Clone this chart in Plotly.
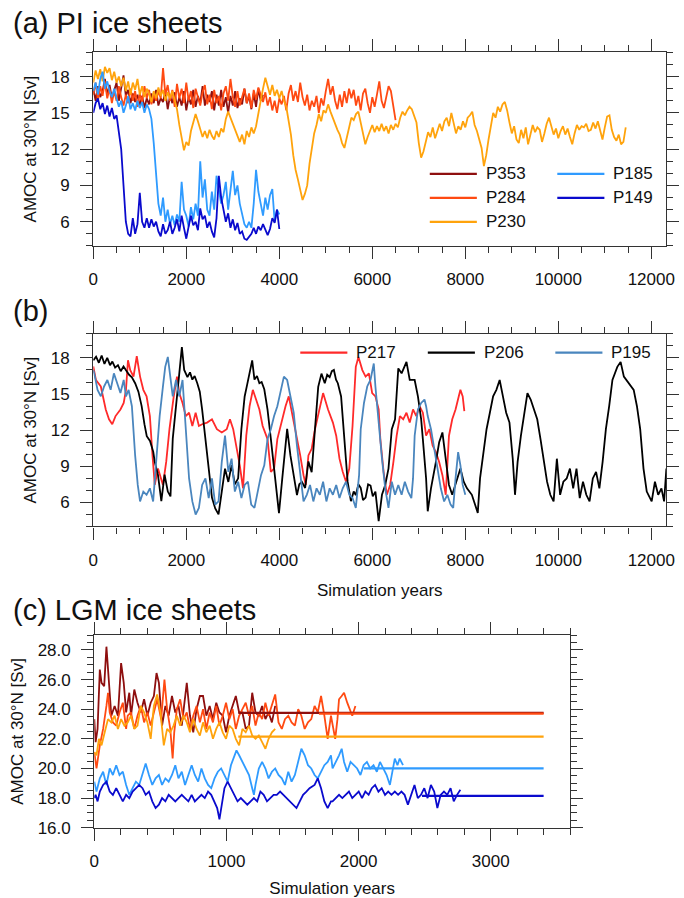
import plotly.graph_objects as go

# ---------------- Panel (a): PI ice sheets (values every 50 model years) ----------------
a_step = 50
a_P353 = [17.0,16.0,17.2,16.3,16.8,17.8,16.5,17.3,16.2,16.9,17.5,16.0,17.0,18.1,16.4,16.9,15.8,16.6,15.9,16.5,
          15.6,16.4,15.4,16.2,15.7,16.6,15.8,16.9,15.6,16.2,15.9,16.8,15.3,16.4,15.8,16.7,15.5,16.3,15.6,16.8,
          15.2,16.3,15.7,16.9,15.5,16.4,15.8,17.2,15.6,16.5,15.9,16.8,15.2,16.5,15.6,16.9,15.5,16.3,15.0,16.4,
          15.6,16.8,15.4,16.2,15.7,17.0,15.8,16.4,15.3,16.6,15.5,17.0,16.0,16.5]
a_P284 = [16.5,17.5,16.0,17.2,16.4,17.6,16.2,17.0,15.8,16.8,16.0,17.2,16.3,15.6,16.5,15.8,17.0,16.0,16.8,15.5,
          16.6,15.9,17.2,16.2,16.9,15.7,16.5,16.0,16.8,16.2,18.7,16.5,17.3,16.0,16.9,15.5,17.4,16.2,17.0,15.8,
          17.5,16.0,16.8,15.4,17.0,16.2,15.6,16.7,17.3,15.7,16.5,15.3,16.9,15.8,16.4,15.2,16.6,17.2,16.0,17.8,
          16.3,15.5,16.8,15.6,16.4,17.0,15.8,16.6,15.4,16.9,16.1,17.1,16.5,15.9,16.7,15.6,16.3,15.2,16.0,15.0,
          16.2,15.7,16.4,15.2,16.6,17.3,16.0,16.8,15.9,17.5,16.3,15.6,16.5,15.2,16.0,15.5,16.4,15.0,16.2,15.6,
          16.8,17.8,16.5,17.2,16.0,15.3,16.5,15.5,16.8,15.8,17.0,16.2,16.9,15.6,16.4,15.2,16.6,17.0,15.8,15.0,
          16.3,15.5,16.5,17.6,16.0,15.4,16.3,17.2,16.8,15.5,14.4]
a_P230 = [17.5,18.5,17.8,18.6,17.6,18.8,18.3,18.7,17.7,18.4,17.5,18.0,17.2,17.9,16.8,17.6,16.5,17.5,16.9,17.8,
          16.5,17.2,16.3,17.0,16.6,15.9,16.8,16.2,17.1,16.4,16.9,16.0,16.7,16.2,16.8,16.0,15.3,14.0,12.8,11.9,
          12.6,12.3,13.5,14.2,14.9,14.3,13.6,13.0,13.5,12.9,13.6,13.1,12.8,13.5,13.0,13.7,13.4,14.5,15.1,14.6,
          14.0,13.5,13.0,12.6,13.2,12.4,13.5,13.0,13.8,13.3,13.9,14.8,16.0,17.0,17.9,17.2,16.5,17.3,16.4,16.9,
          16.2,16.8,16.0,15.5,14.5,13.2,11.5,10.3,9.5,8.6,7.8,8.3,9.0,10.8,12.2,13.3,14.0,14.9,14.3,15.2,
          15.0,15.7,15.1,14.6,14.0,13.6,13.2,12.5,12.1,13.0,13.8,14.6,14.4,14.9,15.1,14.2,13.2,12.4,13.0,13.6,
          14.0,13.4,13.9,13.5,14.1,13.5,13.9,13.3,14.0,13.6,14.1,13.8,14.6,15.1,14.8,15.2,15.5,15.3,14.8,14.2,
          12.5,11.3,11.8,12.6,13.4,13.0,13.8,12.9,13.6,14.1,13.5,14.3,14.6,13.9,15.0,14.2,13.3,13.9,13.6,14.3,
          13.8,14.6,14.8,15.1,14.0,13.5,12.8,12.1,10.6,11.5,12.8,14.0,15.0,14.6,15.5,15.1,15.7,15.9,15.2,14.2,
          13.3,13.9,12.8,12.5,13.6,12.9,13.8,12.4,13.2,14.0,13.4,13.8,13.6,12.6,13.3,14.1,14.6,13.8,13.2,13.7,
          12.9,13.5,13.9,13.2,13.7,13.0,12.4,13.3,14.0,13.6,13.9,13.8,14.1,13.5,13.6,14.2,13.7,14.3,13.5,12.8,
          13.8,14.7,14.8,13.6,13.0,12.7,13.2,12.4,12.6,13.8]
a_P185 = [16.8,17.5,16.5,17.8,18.4,17.0,17.6,16.8,16.3,17.0,16.2,15.5,16.0,15.0,15.6,16.4,15.3,15.8,15.2,16.0,
          15.4,15.9,15.0,15.7,15.3,14.5,12.5,10.0,7.5,6.5,8.0,6.0,7.0,5.8,6.5,5.7,6.6,6.0,9.3,7.0,
          6.5,5.6,7.2,6.2,7.5,6.5,11.0,8.0,9.5,7.0,6.5,8.5,7.0,9.8,8.5,7.5,8.2,9.3,7.0,8.5,
          10.2,8.2,9.0,7.5,6.5,5.8,5.5,6.0,5.5,7.5,10.3,8.5,7.5,6.5,8.0,7.0,8.2,8.7,6.0,7.0,6.6]
a_P149 = [15.0,15.8,16.2,15.3,15.8,14.9,15.6,14.7,15.4,14.5,14.8,13.5,12.0,9.0,6.0,5.0,4.8,6.3,5.0,5.8,
          8.4,6.0,5.5,6.3,5.5,6.2,5.6,6.0,5.2,4.8,5.8,5.0,5.3,6.0,5.0,5.5,6.2,5.2,6.5,5.5,
          4.6,5.6,6.5,5.7,6.0,5.3,7.1,6.2,6.5,5.5,6.0,5.2,4.7,6.3,9.8,8.0,7.0,6.0,6.7,5.5,
          6.2,5.3,5.9,5.0,5.2,4.6,4.5,4.8,5.0,5.5,5.0,5.6,5.3,5.8,5.3,4.9,5.4,6.3,5.9,7.0,5.4]

# ---------------- Panel (b) ----------------
b_P217_x = [0,57,162,268,338,408,478,584,654,703,746,795,865,935,1006,1076,1146,1217,1273,1322,1392,1449,1498,
            1568,1638,1730,1800,1849,1919,1990,2060,2130,2201,2271,2341,2447,2552,2658,2763,2869,2939,3009,3080,
            3150,3220,3290,3361,3431,3501,3572,3642,3747,3818,3888,3958,4064,4134,4204,4275,4345,4450,4521,4570,
            4626,4696,4767,4872,4942,5048,5153,5224,5294,5364,5435,5505,5575,5645,5702,5786,5856,5927,5997,6067,
            6137,6173,6243,6313,6384,6454,6524,6594,6665,6735,6805,6876,6946,7016,7087,7157,7227,7297,7368,7438,
            7508,7579,7614,7649,7719,7790,7860,7895,7944,7979]
b_P217_y = [17.3,16.17,15.63,13.72,12.9,12.49,13.17,13.72,14.26,15.35,17.81,16.99,16.45,18.14,16.45,15.35,14.81,
            13.17,9.9,7.45,8.81,7.99,7.45,9.36,12.08,14.81,16.45,15.08,14.26,13.17,13.45,12.35,13.45,12.35,12.49,
            12.63,12.9,12.08,11.81,12.08,12.9,12.08,10.72,9.08,7.17,11.54,13.99,15.35,14.54,13.72,12.35,11.26,8.54,
            8.81,11.26,12.9,13.99,14.81,13.45,11.81,9.9,8.26,7.45,9.9,10.45,12.08,13.99,15.08,13.72,12.63,11.54,
            9.63,8.54,7.72,8.81,12.35,17.26,18.08,16.99,16.45,16.72,15.08,14.81,13.72,11.26,8.54,6.63,7.45,9.36,
            11.54,13.17,12.9,13.45,12.63,13.72,13.17,13.99,13.45,11.54,12.08,10.72,10.17,9.36,8.26,6.63,8.81,11.54,
            12.9,13.72,14.81,15.35,14.81,13.58]
b_P206_x = [0,60,120,180,240,300,360,410,470,530,590,650,700,770,830,900,970,1040,1100,1150,1220,1290,1320,1390,
            1463,1500,1533,1603,1660,1709,1779,1849,1905,1955,2025,2080,2130,2180,2236,2290,2341,2412,2482,2552,
            2622,2693,2763,2833,2904,2974,3044,3115,3185,3255,3310,3361,3417,3466,3520,3572,3620,3677,3747,3818,
            3888,3958,3993,4064,4169,4239,4310,4380,4430,4486,4556,4626,4696,4767,4837,4907,4978,5030,5083,5130,
            5174,5220,5259,5329,5399,5470,5540,5600,5645,5700,5751,5800,5856,5910,5962,6010,6067,6137,6208,6278,
            6348,6419,6489,6559,6630,6735,6805,6911,6981,7051,7087,7157,7192,7262,7368,7438,7508,7579,7649,7719,
            7790,7895,7965,8036,8141,8268,8317,8387,8457,8528,8598,8668,8739,8809,8879,8950,9020,9069,9125,9196,
            9266,9336,9406,9477,9547,9617,9688,9758,9828,9899,9969,10039,10109,10180,10250,10320,10391,10461,
            10531,10602,10672,10742,10812,10883,10953,11023,11094,11164,11269,11340,11410,11515,11621,11691,
            11761,11832,11902,12008,12078,12148,12218,12275,12324]
b_P206_y = [17.8,18.1,17.6,18.2,17.5,18.0,17.4,17.7,17.2,17.4,16.9,17.3,17.0,16.6,16.4,15.9,15.2,14.0,12.5,11.5,
            11.1,10.2,9.4,8.3,6.1,7.5,8.3,6.9,6.5,11.3,14.3,16.7,18.9,17.0,16.4,16.8,16.2,16.5,15.9,15.2,13.7,
            11.3,8.5,6.4,5.5,5.0,6.9,8.8,7.7,9.1,7.5,8.0,12.1,14.8,15.8,16.7,17.8,16.2,16.5,15.9,16.0,15.4,13.7,
            11.3,8.8,5.8,5.1,7.99,12.1,9.9,8.3,6.6,7.5,7.7,7.2,9.4,8.5,12.1,15.6,16.7,15.9,16.6,16.4,16.9,17.0,
            16.2,15.9,14.8,11.3,7.7,6.1,6.9,6.6,7.5,7.2,6.2,6.4,7.5,7.4,6.5,6.9,4.45,6.63,7.45,8.81,12.08,12.9,
            17.13,16.72,17.67,16.17,16.17,14.81,12.9,11.26,7.99,5.26,7.17,9.36,10.99,11.81,9.36,7.45,6.63,7.45,
            8.81,7.72,7.17,6.63,5.13,7.99,9.9,12.08,13.45,14.81,15.35,16.17,14.81,13.45,12.63,9.63,6.63,9.36,
            11.54,13.45,15.08,14.54,13.72,12.9,11.26,9.36,7.72,6.63,6.08,9.63,6.63,7.72,7.99,8.81,7.17,8.81,6.36,
            7.72,6.63,6.08,7.99,8.54,7.17,9.36,12.08,13.99,16.17,17.26,17.67,16.45,15.9,15.35,13.99,12.08,8.81,
            6.9,6.08,7.72,6.63,7.17,6.08,8.81]
b_P195_x = [0,21,92,162,232,303,373,443,514,584,654,703,760,830,900,956,1006,1076,1146,1217,1287,1357,1427,1498,
            1547,1603,1659,1709,1779,1849,1919,1969,2025,2060,2130,2201,2271,2341,2412,2482,2552,2622,2693,2763,
            2833,2904,2974,3044,3115,3185,3255,3325,3396,3466,3536,3607,3677,3747,3818,3888,3958,4029,4099,4169,
            4239,4310,4380,4450,4521,4591,4661,4732,4802,4872,4942,5013,5083,5153,5224,5294,5364,5435,5505,5575,
            5645,5716,5751,5821,5891,5962,6032,6067,6137,6208,6278,6348,6419,6489,6559,6630,6700,6770,6840,6876,
            6911,6981,7051,7122,7157,7192,7262,7333,7403,7473,7544,7614,7684,7740,7790,7846,7895,7944,8000]
b_P195_y = [16.99,16.72,15.35,14.81,15.63,16.17,15.35,16.72,15.9,15.08,16.17,14.81,15.35,13.99,9.9,7.45,6.08,6.9,
            6.63,7.17,6.08,9.9,13.17,15.63,17.26,18.08,16.45,14.81,16.17,14.81,16.17,13.45,10.72,7.99,6.08,4.99,
            5.54,7.45,7.99,6.36,7.99,5.81,6.08,9.36,11.54,8.54,9.63,6.9,7.72,6.36,7.45,7.72,5.81,5.54,6.9,8.26,
            9.08,11.26,12.08,13.17,13.99,15.35,16.45,16.17,14.81,13.45,10.72,8.26,6.08,6.63,7.45,6.08,7.17,6.63,
            7.72,6.08,7.17,6.63,7.45,6.36,7.17,7.72,6.63,6.36,5.54,8.26,12.08,14.26,15.63,16.2,17.54,15.63,12.35,
            9.63,7.17,5.54,7.72,6.63,7.45,6.63,7.72,6.9,6.36,7.99,11.54,13.72,14.26,14.54,13.99,13.17,12.08,10.45,
            8.81,7.17,6.08,6.63,5.81,5.54,7.99,10.17,9.08,7.45,6.63]

# ---------------- Panel (c): LGM ice sheets ----------------
c_P353_x = [0,10,25,42,55,75,92,109,129,154,179,203,223,241,265,278,303,327,352,377,402,427,451,471,489,513,538,
            563,588,613,637,662,687,700,724,749,774,799,823,848,873,898,923,947,972,997,1022,1047,1071,1096,1121,
            1146,1171,1195,1220,1245,1270,1295,1319,1344,1369]
c_P353_y = [23.33,21.78,22.67,26.67,25.78,25.56,28.22,26.0,23.56,24.22,23.56,27.11,25.78,23.78,25.11,23.56,25.33,
            24.44,23.78,24.67,23.56,24.44,24.89,26.44,25.78,22.89,24.22,23.56,24.89,23.78,24.22,22.89,24.89,25.78,
            23.56,22.44,24.0,24.89,24.89,23.56,24.22,23.33,24.44,23.78,23.56,22.44,23.56,24.22,24.89,23.78,23.78,
            22.67,22.89,25.11,23.78,23.56,24.22,23.33,23.78,23.11,24.22]
c_P284_x = [0,17,42,67,92,104,117,141,166,191,216,241,253,278,303,327,352,377,402,427,451,476,506,531,551,575,
            593,605,625,650,675,700,724,749,774,799,823,848,873,898,923,947,972,997,1022,1047,1071,1096,1121,
            1146,1171,1195,1220,1245,1270,1295,1319,1344,1369,1394,1419,1443,1468,1493,1518,1543,1567,1592,1617,
            1642,1667,1691,1716,1741,1766,1791,1803,1823,1840,1852,1872,1890,1914,1932,1952,1976]
c_P284_y = [21.11,20.0,21.56,22.67,24.22,25.11,23.78,23.11,22.89,23.78,24.44,22.67,23.56,23.78,22.67,23.56,24.22,
            23.11,23.78,22.89,23.78,24.67,23.33,26.0,24.0,22.67,20.67,22.44,24.0,24.67,23.33,23.78,22.67,23.56,
            24.22,23.11,24.0,22.67,23.78,23.11,24.22,22.89,23.56,24.44,23.33,24.0,22.67,23.56,24.0,24.44,23.56,
            24.22,22.89,23.78,23.33,24.44,23.56,24.22,25.0,23.11,22.67,23.33,23.56,23.11,22.89,24.0,23.56,22.67,
            23.11,23.33,24.22,23.78,24.89,23.56,22.0,23.56,22.89,22.0,23.33,24.67,24.89,25.11,24.44,24.0,23.56,
            24.22]
c_P230_x = [0,17,35,55,79,104,129,154,179,203,228,253,278,303,327,352,377,402,427,451,476,501,526,551,575,600,
            625,650,675,700,724,749,774,799,823,848,873,898,923,947,972,997,1022,1047,1071,1096,1121,1146,1171,
            1195,1220,1245,1270,1295,1319,1344,1369]
c_P230_y = [21.11,20.89,22.0,21.56,22.44,23.33,23.11,23.56,22.67,23.33,22.89,23.11,23.56,22.67,22.89,24.22,23.78,
            23.11,22.0,24.22,25.0,23.78,21.56,22.67,22.44,22.89,23.56,22.89,23.56,23.11,22.44,23.33,22.67,22.22,
            23.11,22.44,22.89,22.0,22.67,23.11,22.44,22.0,22.89,22.67,22.0,21.56,22.67,22.44,22.89,22.22,22.0,
            22.22,21.78,21.33,22.0,22.44,22.67]
c_P185_x = [0,17,42,67,92,117,141,166,191,216,241,265,290,315,340,365,389,414,439,464,489,513,538,563,588,613,
            637,662,687,712,737,761,786,811,836,861,885,910,935,960,985,1009,1034,1059,1076,1096,1121,1146,1171,
            1195,1208,1220,1245,1270,1295,1319,1344,1369,1394,1419,1443,1468,1493,1518,1543,1567,1592,1617,1642,
            1667,1691,1716,1741,1766,1791,1803,1828,1852,1872,1890,1914,1939,1964,1989,2014,2038,2063,2088,2113,
            2138,2162,2187,2212,2237,2254,2274,2294,2311,2336]
c_P185_y = [19.11,18.44,19.33,19.78,18.89,20.0,19.56,20.22,19.56,19.78,18.89,18.22,18.67,19.11,18.89,19.56,20.33,
            19.56,18.89,19.33,19.56,18.89,19.33,19.11,19.56,20.22,19.33,19.78,18.89,19.56,20.22,19.56,19.11,20.0,
            19.33,18.89,18.67,19.33,19.78,20.0,19.56,19.11,20.22,20.89,21.22,20.89,20.44,20.0,19.56,18.67,18.22,
            18.89,20.0,20.44,20.0,19.33,19.78,20.0,19.56,19.33,18.89,19.78,19.11,19.56,20.44,21.33,20.89,20.22,
            20.0,19.56,19.33,19.78,20.22,20.44,20.89,20.0,20.44,20.89,21.33,20.44,19.78,20.44,20.22,20.0,19.56,
            20.22,20.44,20.0,20.22,19.78,20.44,20.0,19.56,18.89,19.78,20.67,20.22,20.67,20.22]
c_P149_x = [0,10,25,42,67,92,117,141,166,191,216,241,265,290,315,340,365,389,414,439,464,489,513,538,563,588,
            613,637,662,687,712,737,761,786,811,836,861,885,910,930,947,967,985,1009,1034,1059,1084,1109,1133,
            1158,1183,1208,1233,1257,1282,1307,1332,1357,1381,1406,1431,1456,1481,1505,1530,1555,1580,1605,1629,
            1667,1691,1716,1741,1766,1791,1803,1828,1852,1877,1902,1927,1952,1976,2001,2026,2051,2076,2100,2125,
            2150,2175,2200,2224,2249,2274,2299,2324,2348,2373,2398,2423,2448,2472,2497,2522,2547,2572,2596,2621,
            2646,2671,2696,2720,2745,2770]
c_P149_y = [18.0,18.22,17.78,18.44,18.89,19.11,18.44,18.22,18.67,18.22,17.78,18.22,18.0,18.44,18.67,18.89,18.67,
            18.22,18.44,17.78,17.33,17.56,18.0,17.78,18.22,18.0,17.78,18.0,18.22,18.0,17.78,18.22,17.78,18.0,18.22,
            18.0,18.44,18.22,17.78,17.33,16.56,17.56,18.67,19.11,18.67,18.22,17.78,18.0,17.78,17.56,17.78,18.0,
            17.78,18.44,18.22,17.78,18.0,18.22,18.22,18.44,18.22,18.0,17.78,17.56,17.33,17.78,18.22,18.44,18.67,
            18.89,19.33,18.67,17.78,17.33,17.78,17.78,18.0,18.22,18.0,18.22,18.44,18.0,18.22,18.44,18.0,18.44,
            18.22,18.67,18.89,18.44,18.67,18.22,18.44,18.22,18.44,18.22,18.44,18.22,17.56,18.22,18.89,18.0,18.22,
            18.67,18.0,18.89,18.44,17.33,18.22,18.44,18.22,18.67,17.78,18.22,18.56]
# equilibrium (mean) levels drawn to the end of the panel
c_names = ["P353", "P284", "P230", "P185", "P149"]
c_mean_start = [1090, 1700, 1090, 2040, 2480]
c_mean_level = [23.75, 23.70, 22.15, 20.00, 18.15]
c_mean_end = 3400

# legend contents
leg_a_cols = [["P353", "P284", "P230"], ["P185", "P149"]]
leg_b = ["P217", "P206", "P195"]

# ---------------- styling ----------------
col_a = {"P353": "#8E0F0F", "P284": "#FF4A12", "P230": "#FFA30C", "P185": "#2F9BFF", "P149": "#0A0ACD"}
col_b = {"P217": "#FF2A2A", "P206": "#000000", "P195": "#4A86BE"}
FONT = "Liberation Sans, Arial, Helvetica, sans-serif"
AX = "#333333"
TXT = "#111111"
W, H = 684, 898


def px_x(p):
    return p / W


def px_y(p):
    return 1 - p / H


fig = go.Figure()
LW = 1.8

for name, vals in [("P353", a_P353), ("P284", a_P284), ("P230", a_P230), ("P185", a_P185), ("P149", a_P149)]:
    xs = [a_step * i for i in range(len(vals))]
    fig.add_trace(go.Scatter(x=xs, y=vals, mode="lines", name=name, showlegend=False,
                             line=dict(color=col_a[name], width=LW), xaxis="x", yaxis="y"))

for name, xs, ys in [("P217", b_P217_x, b_P217_y), ("P206", b_P206_x, b_P206_y), ("P195", b_P195_x, b_P195_y)]:
    fig.add_trace(go.Scatter(x=xs, y=ys, mode="lines", name=name, showlegend=False,
                             line=dict(color=col_b[name], width=LW), xaxis="x2", yaxis="y2"))

c_series = [("P353", c_P353_x, c_P353_y), ("P284", c_P284_x, c_P284_y), ("P230", c_P230_x, c_P230_y),
            ("P185", c_P185_x, c_P185_y), ("P149", c_P149_x, c_P149_y)]
for name, xs, ys in c_series:
    fig.add_trace(go.Scatter(x=xs, y=ys, mode="lines", name=name, showlegend=False,
                             line=dict(color=col_a[name], width=LW), xaxis="x3", yaxis="y3"))
for name, s, lv in zip(c_names, c_mean_start, c_mean_level):
    fig.add_trace(go.Scatter(x=[s, c_mean_end], y=[lv, lv], mode="lines", name=name + " mean", showlegend=False,
                             line=dict(color=col_a[name], width=2.2), xaxis="x3", yaxis="y3"))


def axis(domain, rng, dtick, minor, anchor, fmt=None, title=None, standoff=6, title_standoff=None):
    d = dict(domain=domain, range=rng, anchor=anchor, tick0=0, dtick=dtick, ticks="outside", ticklen=12,
             tickwidth=1.3, tickcolor=AX, showline=True, linewidth=1.3, linecolor=AX, mirror="ticks",
             showgrid=False, zeroline=False,
             tickfont=dict(family=FONT, size=17, color=TXT), ticklabelstandoff=standoff,
             minor=dict(dtick=minor, tick0=0, ticks="outside", ticklen=6, tickwidth=1.1, tickcolor=AX,
                        showgrid=False))
    if fmt:
        d["tickformat"] = fmt
    if title:
        t = dict(text=title, font=dict(family=FONT, size=17, color=TXT))
        if title_standoff is not None:
            t["standoff"] = title_standoff
        d["title"] = t
    return d


YT = "AMOC at 30°N [Sv]"
XT = "Simulation years"
xa_dom = [px_x(90), px_x(674)]
YSO = 7
fig.update_layout(
    width=W, height=H, autosize=False, margin=dict(l=0, r=0, t=0, b=0),
    plot_bgcolor="white", paper_bgcolor="white", showlegend=False,
    xaxis=axis(xa_dom, [0, 12320], 2000, 500, "y", fmt="d"),
    yaxis=axis([px_y(249), px_y(53)], [4, 20], 3, 1, "x", title=YT, standoff=YSO, title_standoff=9),
    xaxis2=axis(xa_dom, [0, 12320], 2000, 500, "y2", fmt="d", title=XT),
    yaxis2=axis([px_y(533), px_y(338)], [4, 20], 3, 1, "x2", title=YT, standoff=YSO, title_standoff=9),
    xaxis3=axis([px_x(91), px_x(576)], [0, 3600], 1000, 200, "y3", fmt="d", title=XT),
    yaxis3=axis([px_y(838), px_y(643)], [16, 29], 2, 0.5, "x3", fmt=".1f", title=YT, standoff=YSO,
                title_standoff=9),
)

# panel titles
for txt, xp, yp in [("(a) PI ice sheets", 6, 23), ("(b)", 6, 315), ("(c) LGM ice sheets", 6, 618)]:
    fig.add_annotation(text=txt, x=px_x(xp), y=px_y(yp), xref="paper", yref="paper", xanchor="left",
                       yanchor="middle", showarrow=False, font=dict(family=FONT, size=29, color=TXT))

# legend keys (drawn as in the original: a 48-px line then the label)
leg_line = 48
shapes = []


def legend_entry(name, color, x0, yc):
    shapes.append(dict(type="line", xref="paper", yref="paper", x0=px_x(x0), x1=px_x(x0 + leg_line),
                       y0=px_y(yc), y1=px_y(yc), line=dict(color=color, width=2.4)))
    fig.add_annotation(text=name, x=px_x(x0 + leg_line + 7), y=px_y(yc), xref="paper", yref="paper",
                       xanchor="left", yanchor="middle", showarrow=False,
                       font=dict(family=FONT, size=17, color=TXT))


for ci, col in enumerate(leg_a_cols):
    for ri, name in enumerate(col):
        legend_entry(name, col_a[name], 433 + 130 * ci, 176 + 24.3 * ri)
for i, name in enumerate(leg_b):
    legend_entry(name, col_b[name], 301 + 130 * i, 357)

fig.update_layout(shapes=shapes)
fig.write_html("out.html")
